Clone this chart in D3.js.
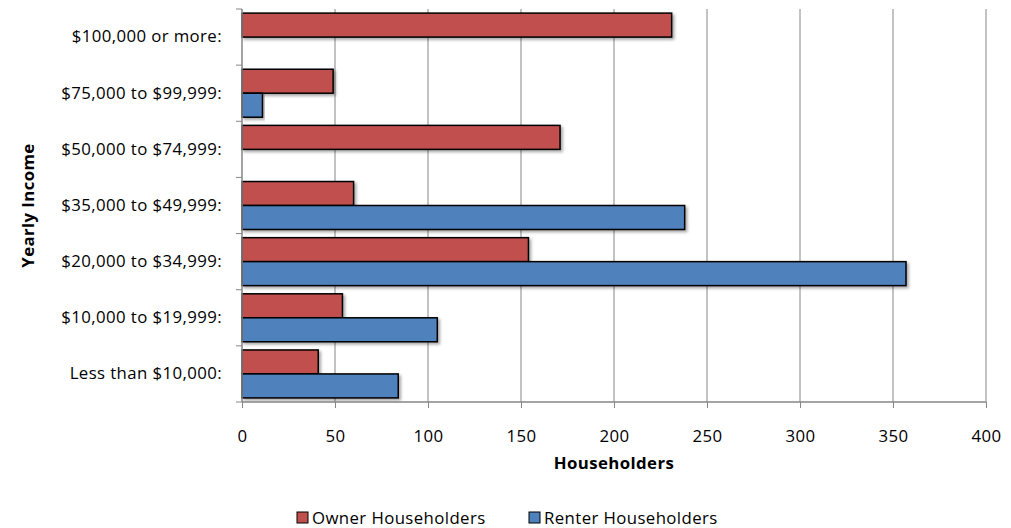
<!DOCTYPE html>
<html><head><meta charset="utf-8">
<script src="https://cdn.jsdelivr.net/npm/d3@7"></script>
<style>body{margin:0;background:#fff;} text{font-family:"Open Sans","Noto Sans",sans-serif;fill:#000;letter-spacing:0.4px;}</style>
</head><body>
<svg id="chart" width="1011" height="528"></svg>
<script>
const categories = ["$100,000 or more:","$75,000 to $99,999:","$50,000 to $74,999:","$35,000 to $49,999:","$20,000 to $34,999:","$10,000 to $19,999:","Less than $10,000:"];
const ownerValues = [231, 49, 171, 60, 154, 54, 41];
const renterValues = [0, 11, 0, 238, 357, 105, 84];
const seriesNames = ["Owner Householders","Renter Householders"];
const seriesColors = ["#C0504D","#4F81BD"];
const xTicks = [0,50,100,150,200,250,300,350,400];

const FS = 16.8;
const svg = d3.select("#chart");
const L = 242, R = 986, T = 9, B = 402;
const x = d3.scaleLinear().domain([0,400]).range([L,R]);
const y = d3.scaleBand().domain(categories).range([T,B]).paddingInner(0.146).paddingOuter(0.073);
const sub = d3.scaleBand().domain(seriesNames).range([0,y.bandwidth()]);

const defs = svg.append("defs");
const f = defs.append("filter").attr("id","sh").attr("x","-5%").attr("y","-20%").attr("width","115%").attr("height","160%");
f.append("feDropShadow").attr("dx",2).attr("dy",2).attr("stdDeviation",1.5).attr("flood-color","#000").attr("flood-opacity",0.35);

// gridlines
svg.append("g").selectAll("line").data(xTicks.slice(1)).join("line")
  .attr("x1",d=>x(d)).attr("x2",d=>x(d)).attr("y1",T).attr("y2",B)
  .attr("stroke","#868686").attr("stroke-width",1);

// bars
const data = [];
categories.forEach((c,i)=>{
  data.push({c, s:seriesNames[0], v:ownerValues[i], col:seriesColors[0]});
  data.push({c, s:seriesNames[1], v:renterValues[i], col:seriesColors[1]});
});
svg.append("g").selectAll("rect").data(data.filter(d=>d.v>0)).join("rect")
  .attr("x",x(0)).attr("y",d=>y(d.c)+sub(d.s))
  .attr("width",d=>x(d.v)-x(0)).attr("height",sub.bandwidth())
  .attr("fill",d=>d.col).attr("stroke","#000").attr("stroke-width",1.5)
  .attr("filter","url(#sh)");

// y axis
const yAxis = d3.axisLeft(y).tickSize(0).tickPadding(20);
const yg = svg.append("g").attr("transform",`translate(${L},0)`).call(yAxis);
yg.select(".domain").remove();
yg.selectAll("text").attr("font-size",FS).attr("fill","#000");
// y tick marks at band boundaries
const bounds = categories.map(c=>y(c)-y.step()*y.paddingInner()/2).concat([B]);
svg.append("g").selectAll("line").data(bounds).join("line")
  .attr("x1",L-6).attr("x2",L).attr("y1",d=>d).attr("y2",d=>d)
  .attr("stroke","#868686").attr("stroke-width",1);
svg.append("line").attr("x1",L).attr("x2",L).attr("y1",T).attr("y2",B).attr("stroke","#868686").attr("stroke-width",1.5);

// x axis
const xAxis = d3.axisBottom(x).tickValues(xTicks).tickSize(6).tickPadding(22);
const xg = svg.append("g").attr("transform",`translate(0,${B})`).call(xAxis);
xg.select(".domain").attr("stroke","#868686").attr("stroke-width",1.5).attr("d",`M${L},0H${R}`);
xg.selectAll(".tick line").attr("stroke","#868686");
xg.selectAll("text").attr("font-size",FS).attr("fill","#000");

// axis titles
svg.append("text").attr("x",(L+R)/2).attr("y",469).attr("text-anchor","middle")
  .attr("font-size",FS).attr("font-weight","bold").text("Householders");
svg.append("text").attr("transform",`translate(34,${(T+B)/2}) rotate(-90)`).attr("text-anchor","middle")
  .attr("font-size",FS).attr("font-weight","bold").text("Yearly Income");

// legend
const leg = svg.append("g");
const legX = [297, 529];
seriesNames.forEach((s,i)=>{
  leg.append("rect").attr("x",legX[i]).attr("y",512).attr("width",11).attr("height",11)
    .attr("fill",seriesColors[i]).attr("stroke","#000").attr("stroke-width",1);
  leg.append("text").attr("x",legX[i]+15).attr("y",524).attr("font-size",FS).text(s);
});
</script>
</body></html>
